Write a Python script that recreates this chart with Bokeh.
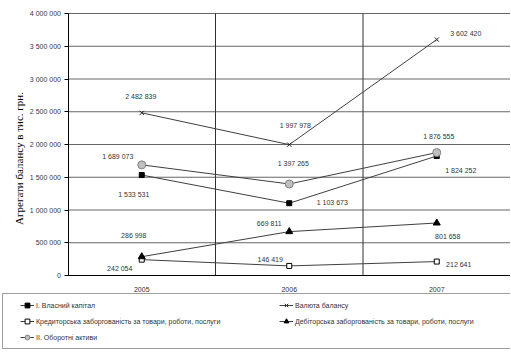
import math
from bokeh.plotting import figure
from bokeh.models import Range1d, FixedTicker, Legend, LegendItem, ColumnDataSource, Label
from bokeh.core.properties import value
from bokeh.embed import file_html
from bokeh.resources import INLINE

# ---- data ----
years = [2005, 2006, 2007]
year_labels = ["2005", "2006", "2007"]
vlasnyi_kapital = [1533531, 1103673, 1824252]
valiuta_balansu = [2482839, 1997978, 3602420]
kredytorska = [242054, 146419, 212641]
debitorska = [286998, 669811, 801658]
oborotni_aktyvy = [1689073, 1397265, 1876555]
y_ticks = [0, 500000, 1000000, 1500000, 2000000, 2500000, 3000000, 3500000, 4000000]
y_tick_labels = ["0", "500 000", "1 000 000", "1 500 000", "2 000 000",
                 "2 500 000", "3 000 000", "3 500 000", "4 000 000"]
series_names = [
    "I. Власний капітал",
    "Валюта балансу",
    "Кредиторська заборгованість за товари, роботи, послуги",
    "Дебіторська заборгованість за товари, роботи, послуги",
    "II. Оборотні активи",
]
series_values = [vlasnyi_kapital, valiuta_balansu, kredytorska, debitorska, oborotni_aktyvy]

# ---- styles / layout (not data) ----
markers = ["square", "x", "square", "triangle", "circle"]
marker_sizes = [5, 6, 5, 7, 8]
fill_colors = ["#000000", "#000000", "#ffffff", "#000000", "#c0c0c0"]
mline_colors = ["#000000", "#222222", "#000000", "#000000", "#808080"]
label_dx = [[-8, 43, 24], [-1, 6, 29], [-22, -19, 22], [-8, -20, 11], [-24, 4, 2]]
label_dy = [[19, -1, 14], [-16, -19, -6], [9, -6, 3], [-21, -8, 14], [-8, -20, -16]]

W, H = 510, 355                 # canvas = frame
PLOT_L, PLOT_T, PLOT_B = 67.5, 13, 275   # chart area edges in pixels
PX = 147.5                      # pixels per category
x_lo = years[0] - 0.5
x_hi = years[-1] + 0.5
x_start = x_lo - PLOT_L / PX
x_end = x_start + W / PX
y_top = y_ticks[-1]
upp = y_top / (PLOT_B - PLOT_T)  # value units per pixel
y_end = y_top + PLOT_T * upp
y_start = -(H - PLOT_B) * upp

FONT = "Liberation Sans"
FS = "7px"
TXT = "#333333"
LINE = "#404040"

def fmt(v):
    return f"{v:,}".replace(",", " ")

p = figure(width=W, height=H, x_range=Range1d(x_start, x_end), y_range=Range1d(y_start, y_end),
           output_backend="svg", toolbar_location=None, min_border=0)
p.outline_line_color = None
p.grid.visible = False

# grid lines (category dividers and value grid) restricted to the chart area
p.segment(x0=[x_lo] * len(y_ticks), x1=[x_hi] * len(y_ticks), y0=y_ticks, y1=y_ticks,
          line_color="#666666", line_width=1.2)
div_x = [y + 0.5 for y in years[:-1]]
p.segment(x0=div_x, x1=div_x, y0=[y_ticks[0]] * len(div_x), y1=[y_top] * len(div_x),
          line_color="#303030", line_width=1)

# axes at fixed positions
p.xaxis.fixed_location = 0
p.xaxis.bounds = (x_lo, x_hi)
p.xaxis.ticker = FixedTicker(ticks=years)
p.xaxis.major_label_overrides = {y: l for y, l in zip(years, year_labels)}
p.xaxis.major_tick_out = 0
p.xaxis.major_tick_in = 0
p.xaxis.minor_tick_out = 0
p.xaxis.minor_tick_in = 0
p.xaxis.axis_line_color = "#000000"
p.xaxis.major_label_standoff = 11
p.xaxis.major_label_text_font = FONT
p.xaxis.major_label_text_font_size = FS
p.xaxis.major_label_text_color = TXT

p.yaxis.fixed_location = x_lo
p.yaxis.bounds = (y_ticks[0], y_top)
p.yaxis.ticker = FixedTicker(ticks=y_ticks)
p.yaxis.major_label_overrides = {t: l for t, l in zip(y_ticks, y_tick_labels)}
p.yaxis.major_tick_out = 4
p.yaxis.major_tick_in = 0
p.yaxis.minor_tick_out = 0
p.yaxis.minor_tick_in = 0
p.yaxis.axis_line_color = "#000000"
p.yaxis.major_tick_line_color = "#000000"
p.yaxis.major_label_standoff = 3
p.yaxis.major_label_text_font = FONT
p.yaxis.major_label_text_font_size = FS
p.yaxis.major_label_text_color = "#3a3346"

p.add_layout(Label(x=x_start + 18 / PX, y=(PLOT_B - 158) * upp,
                   text="Агрегати балансу в тис. грн.", angle=math.pi / 2,
                   text_align="center", text_baseline="middle",
                   text_font="Liberation Serif", text_font_size="11px", text_color="#000000"))

items = []
for i, vals in enumerate(series_values):
    r1 = p.line(years, vals, line_color=LINE, line_width=1)
    r2 = p.scatter(years, vals, marker=markers[i], size=marker_sizes[i],
                   fill_color=fill_colors[i], line_color=mline_colors[i], line_width=1)
    items.append(LegendItem(label=series_names[i], renderers=[r1, r2]))
    src = ColumnDataSource(dict(x=years, y=vals, t=[fmt(v) for v in vals],
                                dx=label_dx[i], dy=label_dy[i]))
    p.text(x="x", y="y", text="t", x_offset="dx", y_offset="dy", source=src,
           text_align="center", text_baseline="middle",
           text_font=value(FONT), text_font_size=FS, text_color=TXT)

common = dict(spacing=4, glyph_width=14, glyph_height=12, label_height=12,
              label_standoff=2, label_text_font=FONT, label_text_font_size=FS,
              label_text_color=TXT, margin=0)
leg_a = Legend(items=[items[0], items[2], items[4]], location=(2, 6),
               border_line_color="#404040", border_line_width=1,
               background_fill_color="white", background_fill_alpha=1,
               padding=5, label_width=470, title=" ", title_location="left",
               title_text_font_size="8px", title_standoff=3, **common)
leg_b = Legend(items=[items[1], items[3]], location=(279, 28),
               border_line_color=None, background_fill_alpha=0, padding=0, **common)
p.add_layout(leg_a)
p.add_layout(leg_b)

open("out.html", "w").write(file_html(p, INLINE))
